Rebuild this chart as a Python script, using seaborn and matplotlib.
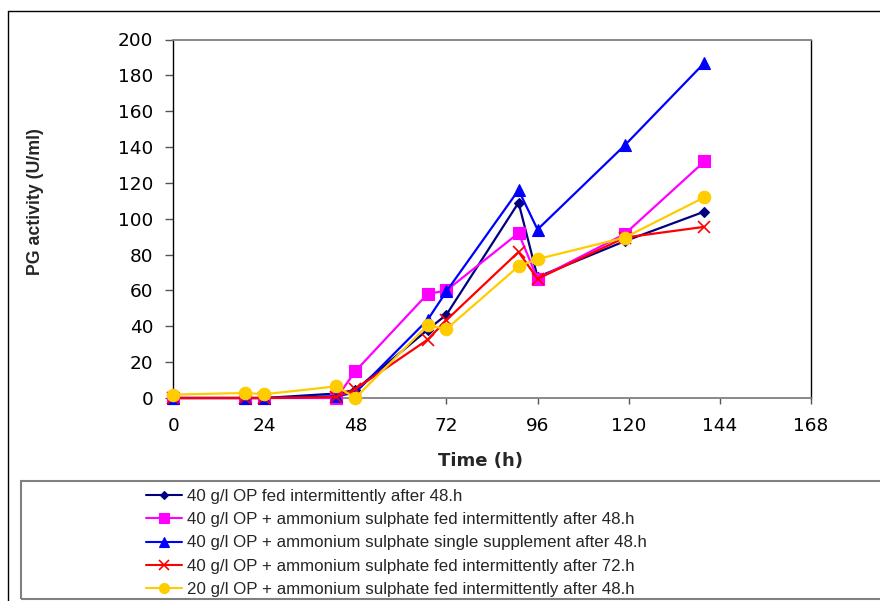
import matplotlib
matplotlib.use("Agg")
import matplotlib.pyplot as plt
import pandas as pd
import seaborn as sns
from matplotlib.lines import Line2D
from matplotlib.patches import Rectangle

# Sampling times (h)
time_h = [0, 19, 24, 43, 48, 67, 72, 91, 96, 119, 140]

# PG activity (U/ml) for each feeding strategy
op40_fed48 = [0, 0, 0, 2.5, 4.5, 38, 46.5, 109, 67.5, 87.5, 104]
op40_as_fed48 = [0, 0, 0, 0, 15, 58, 60, 92, 66.5, 91.5, 132]
op40_as_single48 = [0, 0, 0, 1, 3, 43.5, 59.5, 116, 94, 141, 187]
op40_as_fed72 = [0, 0, 0, 0.5, 5, 32.5, 43.5, 81.5, 66.5, 89.5, 95.5]
op20_as_fed48 = [1.9, 2.8, 2.1, 6.5, 0, 40.5, 38.5, 73.5, 77.5, 89.5, 112]

series_labels = [
    "40 g/l OP fed intermittently after 48.h",
    "40 g/l OP + ammonium sulphate fed intermittently after 48.h",
    "40 g/l OP + ammonium sulphate single supplement after 48.h",
    "40 g/l OP + ammonium sulphate fed intermittently after 72.h",
    "20 g/l OP + ammonium sulphate fed intermittently after 48.h",
]
series_values = [op40_fed48, op40_as_fed48, op40_as_single48, op40_as_fed72, op20_as_fed48]

x_ticks = [0, 24, 48, 72, 96, 120, 144, 168]
y_ticks = [0, 20, 40, 60, 80, 100, 120, 140, 160, 180, 200]

colors = ["#000080", "#FF00FF", "#0000FF", "#FF0000", "#FFCC00"]
markers = ["D", "s", "^", "x", "o"]
marker_sizes = [5.5, 8.5, 9, 8, 9]

sns.set_style("white")
plt.rcParams["font.family"] = ["Liberation Sans", "DejaVu Sans"]

fig = plt.figure(figsize=(8.8, 6.01), dpi=100)
ax = fig.add_axes([173.3 / 880, 1 - 398 / 601, (810.7 - 173.3) / 880, (398 - 39.5) / 601])

frames = []
for label, vals in zip(series_labels, series_values):
    frames.append(pd.DataFrame({"Time (h)": time_h, "PG": vals, "series": label}))
df = pd.concat(frames, ignore_index=True)

handles = []
for label, color, mk, ms in zip(series_labels, colors, markers, marker_sizes):
    sub = df[df["series"] == label]
    sns.lineplot(data=sub, x="Time (h)", y="PG", ax=ax, color=color,
                 marker=mk, markersize=ms, markeredgecolor=color,
                 markeredgewidth=1.2 if mk == "x" else 0.8,
                 linewidth=1.6, estimator=None, sort=False,
                 clip_on=False, zorder=3)
    handles.append(Line2D([], [], color=color, marker=mk,
                          markersize=ms * (0.8 if mk != "x" else 0.9),
                          markeredgecolor=color,
                          markeredgewidth=1.2 if mk == "x" else 0.8,
                          linewidth=1.5))

ax.set_xlim(0, 168)
ax.set_ylim(0, 200)
ax.set_xticks(x_ticks)
ax.set_yticks(y_ticks)
ax.set_xlabel("")
ax.set_ylabel("")
ax.tick_params(axis="both", labelsize=13.3, colors="#000000",
               labelfontfamily="DejaVu Sans")
ax.tick_params(axis="x", direction="out", length=4, width=1, pad=10,
               color="#555555", bottom=True)
ax.tick_params(axis="y", direction="out", length=5.5, width=1, pad=9,
               color="#555555", left=True)

for side in ["left", "right"]:
    ax.spines[side].set_color("#000000")
    ax.spines[side].set_linewidth(1.0)
for side in ["top", "bottom"]:
    ax.spines[side].set_color("#808080")
    ax.spines[side].set_linewidth(1.3)

fig.text(35 / 880, 1 - 202 / 601, "PG activity (U/ml)", rotation=90,
         ha="center", va="center", fontsize=12.8, fontweight="bold")
fig.text(480 / 880, 1 - 461.5 / 601, "Time (h)", ha="center", va="center",
         fontsize=13, fontweight="bold", family="DejaVu Sans")

# Outer chart border (left and top edges)
fig.add_artist(Line2D([7.5 / 880, 7.5 / 880], [0, 1 - 11 / 601],
                      transform=fig.transFigure, color="#000000", lw=1.0))
fig.add_artist(Line2D([7.5 / 880, 1], [1 - 11 / 601, 1 - 11 / 601],
                      transform=fig.transFigure, color="#000000", lw=1.0))

# Legend box
fig.add_artist(Rectangle((21 / 880, 1 - 598.5 / 601), 1.0, (598.5 - 481) / 601,
                         transform=fig.transFigure, fill=False,
                         edgecolor="#808080", lw=1.5))

fig.legend(handles, series_labels, loc="upper left",
           bbox_to_anchor=(146 / 880, 1 - 488.5 / 601), frameon=False,
           fontsize=12.2, handlelength=2.1, handletextpad=0.3,
           labelspacing=0.5, borderpad=0, borderaxespad=0)

fig.savefig("out.png", dpi=100)
